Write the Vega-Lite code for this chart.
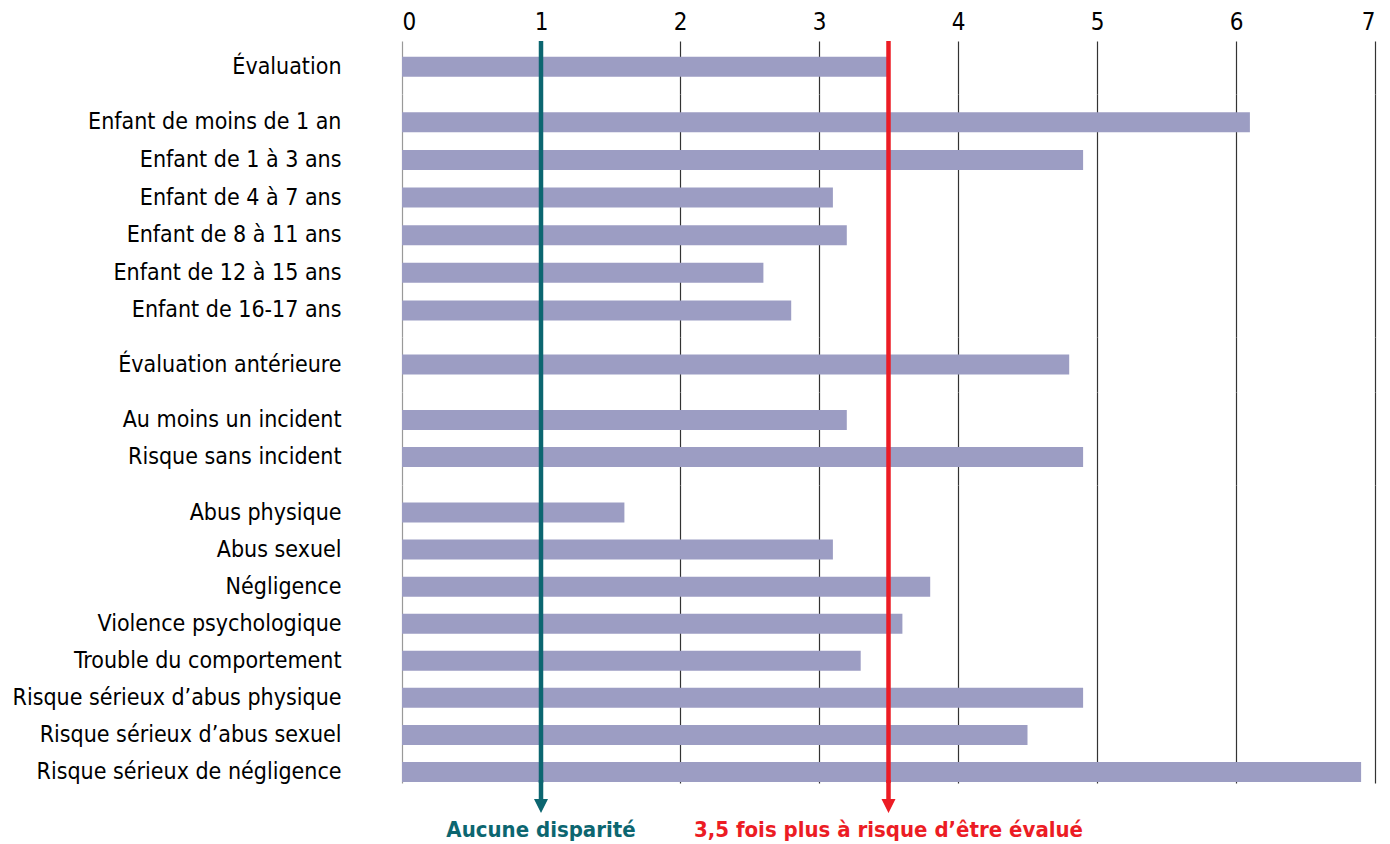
{
  "$schema": "https://vega.github.io/schema/vega-lite/v6.json",
  "padding": {"left": 12, "top": 10, "right": 5, "bottom": 0},
  "spacing": 0,
  "bounds": "flush",
  "config": {
    "view": {"stroke": null},
    "font": "DejaVu Sans Condensed, Roboto, sans-serif",
    "axis": {"labelColor": "#000", "domain": false, "ticks": false, "title": null}
  },
  "datasets": {
    "bars": [
      {"g": "a", "label": "Évaluation", "v": 3.5},
      {"g": "b", "label": "Enfant de moins de 1 an", "v": 6.1},
      {"g": "b", "label": "Enfant de 1 à 3 ans", "v": 4.9},
      {"g": "b", "label": "Enfant de 4 à 7 ans", "v": 3.1},
      {"g": "b", "label": "Enfant de 8 à 11 ans", "v": 3.2},
      {"g": "b", "label": "Enfant de 12 à 15 ans", "v": 2.6},
      {"g": "b", "label": "Enfant de 16-17 ans", "v": 2.8},
      {"g": "c", "label": "Évaluation antérieure", "v": 4.8},
      {"g": "d", "label": "Au moins un incident", "v": 3.2},
      {"g": "d", "label": "Risque sans incident", "v": 4.9},
      {"g": "e", "label": "Abus physique", "v": 1.6},
      {"g": "e", "label": "Abus sexuel", "v": 3.1},
      {"g": "e", "label": "Négligence", "v": 3.8},
      {"g": "e", "label": "Violence psychologique", "v": 3.6},
      {"g": "e", "label": "Trouble du comportement", "v": 3.3},
      {"g": "e", "label": "Risque sérieux d’abus physique", "v": 4.9},
      {"g": "e", "label": "Risque sérieux d’abus sexuel", "v": 4.5},
      {"g": "e", "label": "Risque sérieux de négligence", "v": 6.9}
    ],
    "refs": [
      {"v": 1, "ref": "Aucune disparité"},
      {"v": 3.5, "ref": "3,5 fois plus à risque d’être évalué"}
    ],
    "notes": [
      {"v": 1, "ref": "Aucune disparité", "label": "Risque sérieux de négligence"},
      {"v": 3.5, "ref": "3,5 fois plus à risque d’être évalué", "label": "Risque sérieux de négligence"}
    ]
  },
  "vconcat": [
    {
      "height": 53, "width": 973,
      "layer": [
        {
          "data": {"name": "bars"},
          "transform": [{"filter": "datum.g === 'a'"}],
          "mark": {"type": "bar", "height": 20, "color": "#9c9dc3"},
          "encoding": {
            "y": {"field": "label", "type": "nominal", "sort": null,
                  "scale": {"paddingInner": 0, "paddingOuter": 0.5, "align": 0.47},
                  "axis": {"labelFontSize": 23, "labelPadding": 61, "labelLimit": 400}},
            "x": {"field": "v", "type": "quantitative", "scale": {"domain": [0, 7], "nice": false},
                  "axis": {"orient": "top", "values": [0, 1, 2, 3, 4, 5, 6, 7], "format": "d", "labelFontSize": 24, "labelPadding": 7,
                           "grid": true, "gridWidth": 1.2,
                           "gridColor": {"condition": {"test": "datum.value === 0", "value": "#999999"}, "value": "#333333"}}}
          }
        },
        {
          "data": {"name": "refs"},
          "mark": {"type": "rule", "strokeWidth": 4.5},
          "encoding": {
            "x": {"field": "v", "type": "quantitative", "scale": {"domain": [0, 7], "nice": false}},
            "color": {"field": "ref", "type": "nominal", "legend": null,
                      "scale": {"domain": ["Aucune disparité", "3,5 fois plus à risque d’être évalué"], "range": ["#0c6670", "#ec1c24"]}}
          }
        }
      ]
    },
    {
      "height": 243, "width": 973,
      "layer": [
        {
          "data": {"name": "bars"},
          "transform": [{"filter": "datum.g === 'b'"}],
          "mark": {"type": "bar", "height": 20, "color": "#9c9dc3"},
          "encoding": {
            "y": {"field": "label", "type": "nominal", "sort": null,
                  "scale": {"paddingInner": 0, "paddingOuter": 0.231, "align": 0.55},
                  "axis": {"labelFontSize": 23, "labelPadding": 61, "labelLimit": 400}},
            "x": {"field": "v", "type": "quantitative", "scale": {"domain": [0, 7], "nice": false},
                  "axis": {"orient": "top", "values": [0, 1, 2, 3, 4, 5, 6, 7], "labels": false, "minExtent": 0, "maxExtent": 0,
                           "grid": true, "gridWidth": 1.2,
                           "gridColor": {"condition": {"test": "datum.value === 0", "value": "#999999"}, "value": "#333333"}}}
          }
        },
        {
          "data": {"name": "refs"},
          "mark": {"type": "rule", "strokeWidth": 4.5},
          "encoding": {
            "x": {"field": "v", "type": "quantitative", "scale": {"domain": [0, 7], "nice": false}},
            "color": {"field": "ref", "type": "nominal", "legend": null,
                      "scale": {"domain": ["Aucune disparité", "3,5 fois plus à risque d’être évalué"], "range": ["#0c6670", "#ec1c24"]}}
          }
        }
      ]
    },
    {
      "height": 55, "width": 973,
      "layer": [
        {
          "data": {"name": "bars"},
          "transform": [{"filter": "datum.g === 'c'"}],
          "mark": {"type": "bar", "height": 20, "color": "#9c9dc3"},
          "encoding": {
            "y": {"field": "label", "type": "nominal", "sort": null,
                  "scale": {"paddingInner": 0, "paddingOuter": 0.5},
                  "axis": {"labelFontSize": 23, "labelPadding": 61, "labelLimit": 400}},
            "x": {"field": "v", "type": "quantitative", "scale": {"domain": [0, 7], "nice": false},
                  "axis": {"orient": "top", "values": [0, 1, 2, 3, 4, 5, 6, 7], "labels": false, "minExtent": 0, "maxExtent": 0,
                           "grid": true, "gridWidth": 1.2,
                           "gridColor": {"condition": {"test": "datum.value === 0", "value": "#999999"}, "value": "#333333"}}}
          }
        },
        {
          "data": {"name": "refs"},
          "mark": {"type": "rule", "strokeWidth": 4.5},
          "encoding": {
            "x": {"field": "v", "type": "quantitative", "scale": {"domain": [0, 7], "nice": false}},
            "color": {"field": "ref", "type": "nominal", "legend": null,
                      "scale": {"domain": ["Aucune disparité", "3,5 fois plus à risque d’être évalué"], "range": ["#0c6670", "#ec1c24"]}}
          }
        }
      ]
    },
    {
      "height": 93, "width": 973,
      "layer": [
        {
          "data": {"name": "bars"},
          "transform": [{"filter": "datum.g === 'd'"}],
          "mark": {"type": "bar", "height": 20, "color": "#9c9dc3"},
          "encoding": {
            "y": {"field": "label", "type": "nominal", "sort": null,
                  "scale": {"paddingInner": 0, "paddingOuter": 0.257},
                  "axis": {"labelFontSize": 23, "labelPadding": 61, "labelLimit": 400}},
            "x": {"field": "v", "type": "quantitative", "scale": {"domain": [0, 7], "nice": false},
                  "axis": {"orient": "top", "values": [0, 1, 2, 3, 4, 5, 6, 7], "labels": false, "minExtent": 0, "maxExtent": 0,
                           "grid": true, "gridWidth": 1.2,
                           "gridColor": {"condition": {"test": "datum.value === 0", "value": "#999999"}, "value": "#333333"}}}
          }
        },
        {
          "data": {"name": "refs"},
          "mark": {"type": "rule", "strokeWidth": 4.5},
          "encoding": {
            "x": {"field": "v", "type": "quantitative", "scale": {"domain": [0, 7], "nice": false}},
            "color": {"field": "ref", "type": "nominal", "legend": null,
                      "scale": {"domain": ["Aucune disparité", "3,5 fois plus à risque d’être évalué"], "range": ["#0c6670", "#ec1c24"]}}
          }
        }
      ]
    },
    {
      "height": 298, "width": 973,
      "layer": [
        {
          "data": {"name": "bars"},
          "transform": [{"filter": "datum.g === 'e'"}],
          "mark": {"type": "bar", "height": 20, "color": "#9c9dc3"},
          "encoding": {
            "y": {"field": "label", "type": "nominal", "sort": null,
                  "scale": {"paddingInner": 0.4595, "paddingOuter": 0.25, "align": 0.946},
                  "axis": {"labelFontSize": 23, "labelPadding": 61, "labelLimit": 400}},
            "x": {"field": "v", "type": "quantitative", "scale": {"domain": [0, 7], "nice": false},
                  "axis": {"orient": "top", "values": [0, 1, 2, 3, 4, 5, 6, 7], "labels": false, "minExtent": 0, "maxExtent": 0,
                           "grid": true, "gridWidth": 1.2,
                           "gridColor": {"condition": {"test": "datum.value === 0", "value": "#999999"}, "value": "#333333"}}}
          }
        },
        {
          "data": {"name": "refs"},
          "mark": {"type": "rule", "strokeWidth": 4.5},
          "encoding": {
            "x": {"field": "v", "type": "quantitative", "scale": {"domain": [0, 7], "nice": false}},
            "color": {"field": "ref", "type": "nominal", "legend": null,
                      "scale": {"domain": ["Aucune disparité", "3,5 fois plus à risque d’être évalué"], "range": ["#0c6670", "#ec1c24"]}}
          }
        },
        {
          "data": {"name": "notes"},
          "mark": {"type": "point", "shape": "M-0.1125,-1.3L0.1125,-1.3L0.1125,-0.35L0.35,-0.35L0,0.35L-0.35,-0.35L-0.1125,-0.35Z",
                   "size": 1600, "filled": true, "opacity": 1, "yOffset": 34},
          "encoding": {
            "x": {"field": "v", "type": "quantitative", "scale": {"domain": [0, 7], "nice": false}},
            "y": {"field": "label", "type": "nominal", "sort": null},
            "color": {"field": "ref", "type": "nominal", "legend": null,
                      "scale": {"domain": ["Aucune disparité", "3,5 fois plus à risque d’être évalué"], "range": ["#0c6670", "#ec1c24"]}}
          }
        },
        {
          "data": {"name": "notes"},
          "mark": {"type": "text", "fontWeight": "bold", "fontSize": 22, "yOffset": 65, "baseline": "alphabetic", "align": "center"},
          "encoding": {
            "x": {"field": "v", "type": "quantitative", "scale": {"domain": [0, 7], "nice": false}},
            "y": {"field": "label", "type": "nominal", "sort": null},
            "text": {"field": "ref"},
            "color": {"field": "ref", "type": "nominal", "legend": null,
                      "scale": {"domain": ["Aucune disparité", "3,5 fois plus à risque d’être évalué"], "range": ["#0c6670", "#ec1c24"]}}
          }
        }
      ]
    }
  ]
}
